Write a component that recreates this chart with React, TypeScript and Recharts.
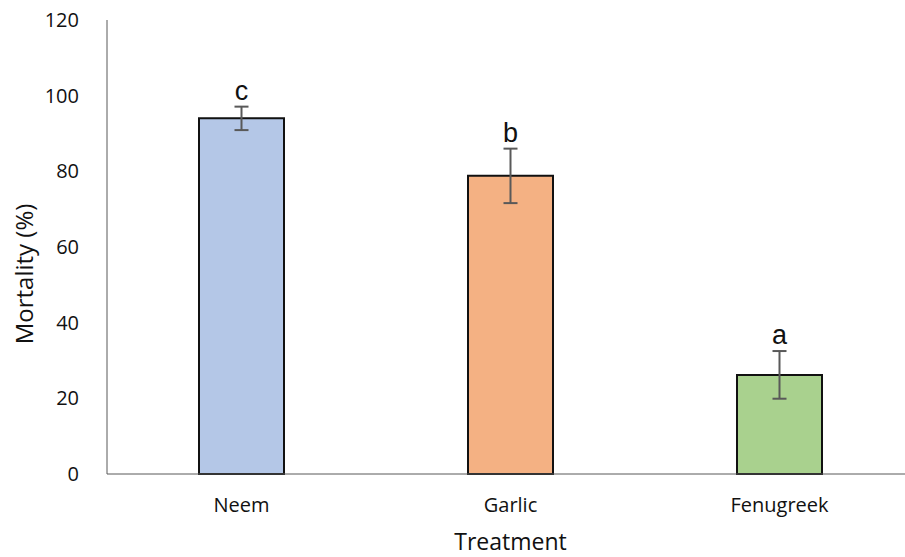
import React from "react";
import { Bar, BarChart, Cell, ErrorBar, LabelList, XAxis, YAxis } from "recharts";

// Behandlinger og dødelighet (%) med standardavvik
const treatments = ["Neem", "Garlic", "Fenugreek"];
const mortality = [94.0, 78.8, 26.2];
const errors = [3.1, 7.2, 6.3];
const letters = ["c", "b", "a"];
const colors = ["#b4c7e7", "#f4b183", "#a9d18e"];
const yTicks = [0, 20, 40, 60, 80, 100, 120];

const data = treatments.map((t, i) => ({
  name: t,
  value: mortality[i],
  err: errors[i],
  letter: letters[i],
}));

const FONT = "'Open Sans', 'Noto Sans', sans-serif";

function LetterLabel(props: any) {
  const { x, y, width, height, index } = props;
  const d = data[index];
  const pxPerUnit = height / d.value;
  const errTop = y - d.err * pxPerUnit;
  return (
    <text
      x={x + width / 2}
      y={errTop - 7}
      textAnchor="middle"
      fontFamily="'Liberation Sans', Arial, sans-serif"
      fontSize={27}
      fill="#111"
    >
      {d.letter}
    </text>
  );
}

function YTitle() {
  return (
    <text
      transform="translate(33, 274) rotate(-90)"
      textAnchor="middle"
      fontFamily={FONT}
      fontSize={24}
      fill="#111"
    >
      Mortality (%)
    </text>
  );
}

export default function App() {
  return (
    <div
      style={{
        position: "absolute",
        left: 0,
        top: 0,
        width: 905,
        height: 557,
        overflow: "hidden",
        background: "#fff",
      }}
    >
      <BarChart
        width={930}
        height={557}
        data={data}
        margin={{ top: 20, right: 16, bottom: 0, left: 0 }}
      >
        <XAxis
          dataKey="name"
          height={83}
          tickLine={false}
          stroke="#595959"
          tickMargin={18}
          tick={{ fill: "#111", fontSize: 20, fontFamily: FONT }}
          label={{
            value: "Treatment",
            position: "insideBottom",
            offset: 7,
            style: { fill: "#111", fontSize: 23, fontFamily: FONT },
          }}
        />
        <YAxis
          width={107}
          domain={[0, 120]}
          ticks={yTicks}
          tickLine={false}
          stroke="#595959"
          tickMargin={22}
          tick={{ fill: "#111", fontSize: 20, fontFamily: FONT }}
          label={<YTitle />}
        />
        <Bar dataKey="value" barSize={85} stroke="#111" strokeWidth={2} isAnimationActive={false}>
          {data.map((d, i) => (
            <Cell key={d.name} fill={colors[i]} />
          ))}
          <ErrorBar dataKey="err" width={7} stroke="#595959" strokeWidth={2} />
          <LabelList dataKey="letter" content={LetterLabel} />
        </Bar>
      </BarChart>
    </div>
  );
}
